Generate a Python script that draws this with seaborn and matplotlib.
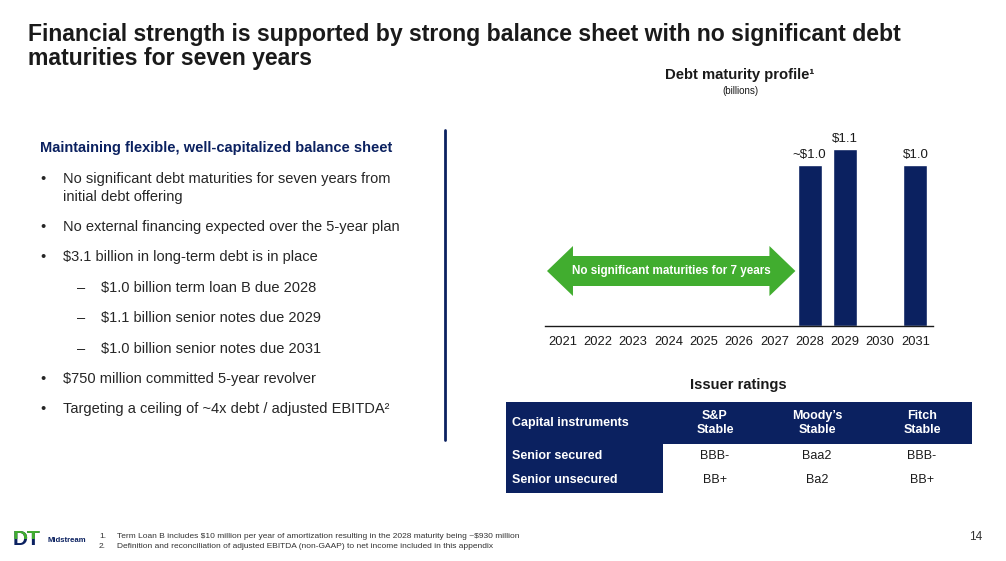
import matplotlib
matplotlib.use("Agg")
import matplotlib.pyplot as plt
from matplotlib.patches import Rectangle, Polygon
import seaborn as sns
import pandas as pd

# ---------------- data ----------------
years = ["2021", "2022", "2023", "2024", "2025", "2026", "2027", "2028", "2029", "2030", "2031"]
maturities = [0, 0, 0, 0, 0, 0, 0, 1.0, 1.1, 0, 1.0]
bar_labels = ["", "", "", "", "", "", "", "~$1.0", "$1.1", "", "$1.0"]

rating_cols = ["S&P\nStable", "Moody\u2019s\nStable", "Fitch\nStable"]
rating_rows = ["Senior secured", "Senior unsecured"]
ratings_secured = ["BBB-", "Baa2", "BBB-"]
ratings_unsecured = ["BB+", "Ba2", "BB+"]

bullets = [
    ("•", ["No significant debt maturities for seven years from", "initial debt offering"]),
    ("•", ["No external financing expected over the 5-year plan"]),
    ("•", ["$3.1 billion in long-term debt is in place"]),
    ("–", ["$1.0 billion term loan B due 2028"]),
    ("–", ["$1.1 billion senior notes due 2029"]),
    ("–", ["$1.0 billion senior notes due 2031"]),
    ("•", ["$750 million committed 5-year revolver"]),
    ("•", ["Targeting a ceiling of ~4x debt / adjusted EBITDA²"]),
]
footnotes = [
    "Term Loan B includes $10 million per year of amortization resulting in the 2028 maturity being ~$930 million",
    "Definition and reconciliation of adjusted EBITDA (non-GAAP) to net income included in this appendix",
]

NAVY = "#0B2160"
GREEN = "#41AD2F"
TXT = "#262626"

sns.set_theme(style="white")
plt.rcParams["font.family"] = ["Liberation Sans", "DejaVu Sans"]
plt.rcParams["text.parse_math"] = False

W, H = 1006, 561
fig = plt.figure(figsize=(W / 100, H / 100), dpi=100)
fig.patch.set_facecolor("white")


def fx(px):
    return px / W


def fy(py):
    return 1 - py / H


def ftext(x, y, s, **kw):
    return fig.text(fx(x), fy(y), s, **kw)


# ---------------- title ----------------
ftext(28, 41.5, "Financial strength is supported by strong balance sheet with no significant debt",
      fontsize=16.6, fontweight="bold", color="#1a1a1a", va="baseline", ha="left")
ftext(28, 65, "maturities for seven years",
      fontsize=16.6, fontweight="bold", color="#1a1a1a", va="baseline", ha="left")

# ---------------- left text ----------------
ftext(40, 148, "Maintaining flexible, well-capitalized balance sheet",
      fontsize=10.5, fontweight="bold", color=NAVY, va="center", ha="left")
bullet_y = [179, 227, 257, 288, 318, 349, 379, 409]
for (mark, lines), yy in zip(bullets, bullet_y):
    tx = 63 if mark == "•" else 101
    mx = 40 if mark == "•" else 77
    ftext(mx, yy, mark, fontsize=10.5, color=TXT, va="center", ha="left")
    for k, line in enumerate(lines):
        ftext(tx, yy + 18 * k, line, fontsize=10.5, color=TXT, va="center", ha="left")

# divider
fig.add_artist(plt.Line2D([fx(445), fx(445)], [fy(130), fy(440)], color=NAVY, lw=2,
                          transform=fig.transFigure))

# ---------------- chart ----------------
ftext(740, 75, "Debt maturity profile¹", fontsize=10.7, fontweight="bold", color="#1a1a1a",
      ha="center", va="center")
ftext(740, 91, "(billions)", fontsize=7, color="#1a1a1a", ha="center", va="center")

ax = fig.add_axes([fx(545), fy(326), fx(933) - fx(545), (326 - 130) / H])
df = pd.DataFrame({"year": years, "value": maturities})
sns.barplot(data=df, x="year", y="value", order=years, color=NAVY, saturation=1,
            width=0.68, ax=ax, errorbar=None)
ax.set_xlim(-0.5, 10.5)
ax.set_ylim(0, 196 / 161)
ax.set_xlabel("")
ax.set_ylabel("")
ax.set_yticks([])
for s in ["top", "right", "left"]:
    ax.spines[s].set_visible(False)
ax.spines["bottom"].set_color("#1a1a1a")
ax.spines["bottom"].set_linewidth(1)
ax.tick_params(axis="x", length=0, pad=7, labelsize=9.3, labelcolor="#1a1a1a")
ax.set_facecolor("none")

for patch, lab in zip(ax.patches, bar_labels):
    if lab:
        ax.text(patch.get_x() + patch.get_width() / 2, patch.get_height() + 0.025, lab,
                ha="center", va="bottom", fontsize=9.5, color="#1a1a1a")

# green double arrow
ax_y = lambda py: (326 - py) / 161
x0, x1 = -0.5 + 2 / 35.3, -0.5 + (796 - 545.4) / 35.3
hl = 26 / 35.3
yc, bh, hh = ax_y(271), 15 / 161, 25 / 161
arrow = Polygon([(x0, yc), (x0 + hl, yc + hh), (x0 + hl, yc + bh), (x1 - hl, yc + bh),
                 (x1 - hl, yc + hh), (x1, yc), (x1 - hl, yc - hh), (x1 - hl, yc - bh),
                 (x0 + hl, yc - bh), (x0 + hl, yc - hh)],
                closed=True, facecolor=GREEN, edgecolor="none", clip_on=False, zorder=3)
ax.add_patch(arrow)
ax.text((x0 + x1) / 2, yc, "No significant maturities for 7 years", ha="center", va="center",
        fontsize=8.4, fontweight="bold", color="white", zorder=4)

# ---------------- ratings table ----------------
ftext(738, 385, "Issuer ratings", fontsize=10.6, fontweight="bold", color="#1a1a1a",
      ha="center", va="center")
tl, tr = 506, 972
fig.add_artist(Rectangle((fx(tl), fy(444)), fx(tr) - fx(tl), (444 - 402) / H,
                         transform=fig.transFigure, facecolor=NAVY, edgecolor="none"))
fig.add_artist(Rectangle((fx(tl), fy(493)), fx(663) - fx(tl), (493 - 444) / H,
                         transform=fig.transFigure, facecolor=NAVY, edgecolor="none"))
ftext(512, 423, "Capital instruments", fontsize=9, fontweight="bold", color="white",
      ha="left", va="center")
col_x = [715, 817, 922]
for cx, lab in zip(col_x, rating_cols):
    ftext(cx, 423, lab, fontsize=9, fontweight="bold", color="white", ha="center", va="center",
          linespacing=1.15)
row_y = [456, 480]
for ry, rlab, vals in zip(row_y, rating_rows, [ratings_secured, ratings_unsecured]):
    ftext(512, ry, rlab, fontsize=9, fontweight="bold", color="white", ha="left", va="center")
    for cx, v in zip(col_x, vals):
        ftext(cx, ry, v, fontsize=9, color="#1a1a1a", ha="center", va="center")

# ---------------- footer ----------------
for i, (fn, yy) in enumerate(zip(footnotes, [537, 547])):
    ftext(99, yy, f"{i + 1}.", fontsize=6, color="#333333", ha="left", va="center")
    ftext(117, yy, fn, fontsize=6, color="#333333", ha="left", va="center")
ftext(982, 537, "14", fontsize=8.5, color="#333333", ha="right", va="center")

# logo
dt_navy = ftext(13, 545, "DT", fontsize=15, fontweight="heavy", color=NAVY, ha="left",
                va="baseline")
dt_green = ftext(13, 545, "DT", fontsize=15, fontweight="heavy", color=GREEN, ha="left",
                 va="baseline")
clip = Rectangle((0, fy(539)), fx(60), 20 / H, transform=fig.transFigure)
dt_green.set_clip_path(clip)
ftext(47, 540, "Midstream", fontsize=5.6, fontweight="bold", color=NAVY, ha="left", va="center")

fig.savefig("out.png", dpi=100, facecolor="white")
